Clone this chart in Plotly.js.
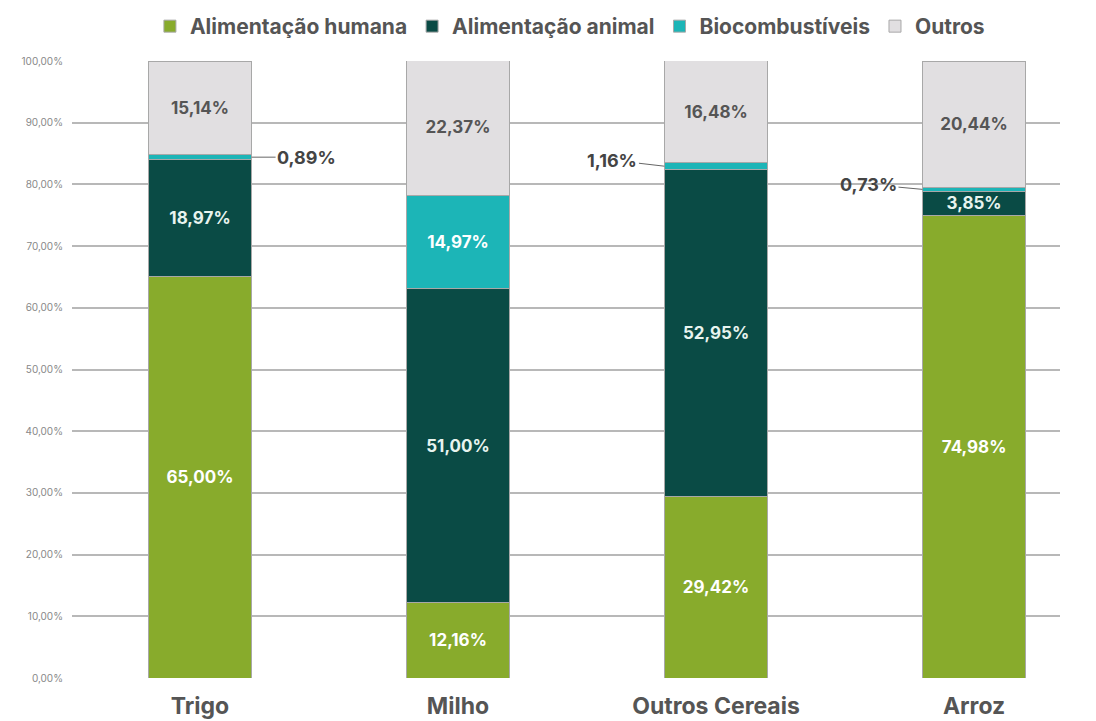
<!DOCTYPE html>
<html>
<head>
<meta charset="utf-8">
<script src="https://cdn.plot.ly/plotly-3.0.1.min.js"></script>
<style>html,body{margin:0;padding:0;background:#fff;}#chart{width:1096px;height:721px;}</style>
</head>
<body>
<div id="chart"></div>
<script>
const categories = ["Trigo", "Milho", "Outros Cereais", "Arroz"];
const seriesNames = ["Alimentação humana", "Alimentação animal", "Biocombustíveis", "Outros"];
const humana = [65.00, 12.16, 29.42, 74.98];
const animal = [18.97, 51.00, 52.95, 3.85];
const biocomb = [0.89, 14.97, 1.16, 0.73];
const outros = [15.14, 22.37, 16.48, 20.44];
const yTicks = [0, 10, 20, 30, 40, 50, 60, 70, 80, 90, 100];

const colors = ["#88ab2c", "#0a4b45", "#1cb5b7", "#e1dfe1"];
const textColors = ["#ffffff", "#e8f4ef", "#ffffff", "#555555"];
const fmt = v => v.toFixed(2).replace(".", ",") + "%";
const allSeries = [humana, animal, biocomb, outros];

const traces = allSeries.map((vals, i) => ({
  type: "bar",
  name: seriesNames[i],
  x: categories,
  y: vals,
  width: 0.4,
  marker: {color: colors[i], line: {color: "#a8a8a8", width: 1}},
  text: vals.map(v => (v < 2 ? "" : fmt(v))),
  textposition: "inside",
  insidetextanchor: "middle",
  textangle: 0,
  constraintext: "none",
  textfont: {family: "Inter, 'DejaVu Sans', sans-serif", size: 17, color: textColors[i], weight: 700},
  hoverinfo: "skip"
}));

const annFont = {family: "Inter, 'DejaVu Sans', sans-serif", size: 18, color: "#444", weight: 700};
const smallIdx = [0, 2, 3];
const offs = {0: [0.2, 55, 0], 2: [-0.2, -52, -6], 3: [-0.2, -54, -5]};
const annotations = smallIdx.map(i => ({
  x: i + offs[i][0], xref: "x",
  y: humana[i] + animal[i] + biocomb[i] / 2, yref: "y",
  text: fmt(biocomb[i]),
  showarrow: true, arrowhead: 0, arrowwidth: 1, arrowcolor: "#666",
  ax: offs[i][1], ay: offs[i][2],
  font: annFont
}));

const layout = {
  width: 1096, height: 721,
  margin: {l: 72, r: 36, t: 61, b: 43},
  paper_bgcolor: "#fff", plot_bgcolor: "#fff",
  barmode: "stack",
  showlegend: true,
  legend: {
    orientation: "h", x: 0.52, xref: "container", xanchor: "center",
    y: 1 - 6 / 721, yref: "container", yanchor: "top",
    font: {family: "Inter, 'DejaVu Sans', sans-serif", size: 21, color: "#555", weight: 700},
    traceorder: "normal", itemwidth: 30
  },
  xaxis: {
    type: "category",
    range: [-0.496, 3.333],
    showgrid: false, zeroline: false, showline: false,
    ticks: "",
    ticklabelstandoff: 12,
    tickfont: {family: "Inter, 'DejaVu Sans', sans-serif", size: 23, color: "#555", weight: 700},
    automargin: false
  },
  yaxis: {
    range: [0, 100],
    tickmode: "array",
    tickvals: yTicks,
    ticktext: yTicks.map(v => v.toFixed(2).replace(".", ",") + "%"),
    tickfont: {family: "Inter, 'DejaVu Sans', sans-serif", size: 10, color: "#888"},
    showgrid: true, gridcolor: "#b8b8b8", gridwidth: 2,
    zeroline: false, showline: false,
    ticks: "", ticklen: 0,
    ticklabelstandoff: 8,
    automargin: false
  },
  separators: ",.",
  annotations: annotations,
  bargap: 0.6
};

Plotly.newPlot("chart", traces, layout, {displayModeBar: false, staticPlot: true});
</script>
</body>
</html>
